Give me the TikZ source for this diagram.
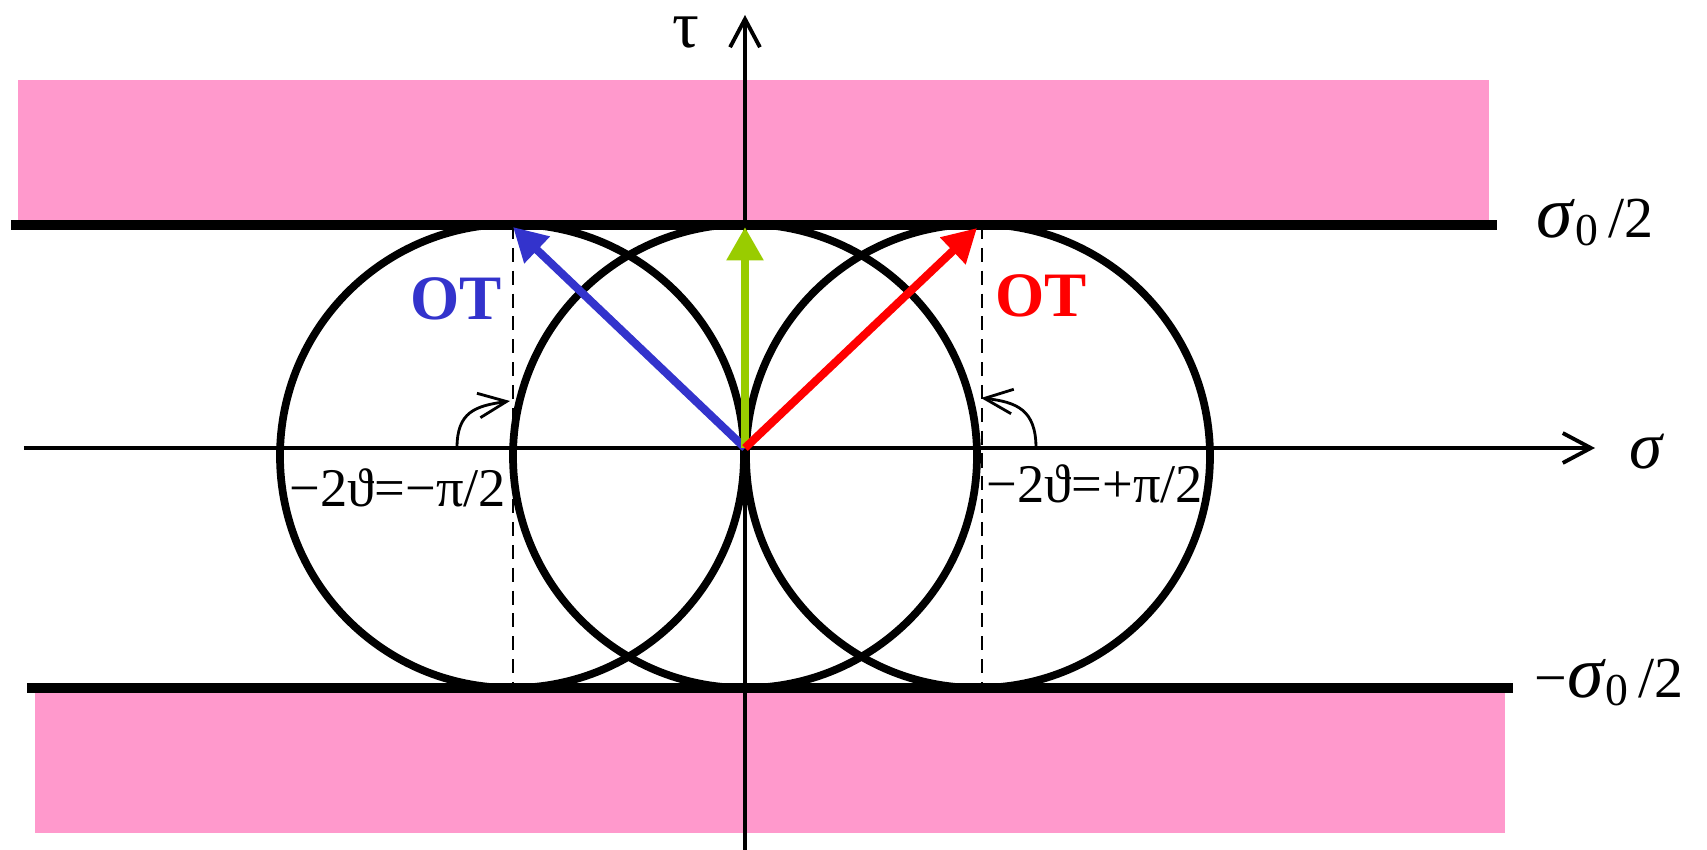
\documentclass[tikz,border=0pt]{standalone}
\usepackage{fontspec}
\setmainfont{Liberation Serif}
\usetikzlibrary{arrows.meta}

\definecolor{stripe}{HTML}{FF99CC}
\definecolor{otblue}{HTML}{3333CC}
\definecolor{otred}{HTML}{FF0000}
\definecolor{otgreen}{HTML}{99CC00}

\begin{document}
\begin{tikzpicture}[>={Straight Barb[length=8pt,width=8.5pt]},
		axis/.style={line width=1.1pt,->},
		wall/.style={line width=2.6pt},
		orbit/.style={line width=2.2pt},
		vec/.style={line width=2.3pt,-{Triangle[length=9.5pt,width=10pt]}},
		turn/.style={line width=0.8pt,-{Straight Barb[length=8pt,width=7pt]}},
		guide/.style={line width=0.7pt,dash pattern=on 4pt off 2.5pt},
		lbl/.style={inner sep=0pt,font=\fontsize{19}{22}\selectfont},
		angle label/.style={inner sep=0pt,font=\fontsize{15.5}{18}\selectfont},
		wall label/.style={inner sep=0pt,font=\fontsize{16.5}{19}\selectfont},
		ot/.style={inner sep=0pt,font=\fontsize{18}{20}\selectfont\bfseries}]
			\useasboundingbox (-7.45,-4.01) rectangle (9.62,4.48);
			
			% forbidden strips
			\fill[stripe] (-7.27,2.26) rectangle (7.44,3.68);
			\fill[stripe] (-7.10,-2.45) rectangle (7.60,-3.85);
			
			\coordinate (O) at (0,0);
			\coordinate (sl) at (-7.21,0);
			\coordinate (sr) at (8.50,0);
			\coordinate (tb) at (0,-4.05);
			\coordinate (tt) at (0,4.33);
			\draw[axis] (sl) -- (sr);
			\draw[axis] (tb) -- (tt);
			\node[lbl] (sigma) at (9.02,-0.04) {\textit{σ}};
			\node[lbl] (tau) at (-0.59,4.15) {τ};
			
			% boundaries
			\coordinate (ul) at (-7.34,2.23);
			\coordinate (ur) at (7.52,2.23);
			\coordinate (ll) at (-7.18,-2.40);
			\coordinate (lr) at (7.68,-2.40);
			\draw[wall] (ul) -- (ur);
			\draw[wall] (ll) -- (lr);
			\node[wall label] (up) at (8.50,2.25) {{\fontsize{21}{23}\selectfont\textit{σ}}\raisebox{-0.3ex}{\fontsize{13}{15}\selectfont 0}\,/2};
			\node[wall label] (down) at (8.64,-2.35) {−{\fontsize{21}{23}\selectfont\textit{σ}}\raisebox{-0.3ex}{\fontsize{13}{15}\selectfont 0}\,/2};
			
			% circles
			\foreach \cx in {-2.33,0,2.33}
				\draw[orbit] (\cx,-0.08) circle (2.32);
			
			% dashed verticals
			\coordinate (dlt) at (-2.32,2.23);
			\coordinate (dlb) at (-2.32,-2.40);
			\coordinate (drt) at (2.37,2.23);
			\coordinate (drb) at (2.37,-2.40);
			\draw[guide] (dlt) -- (dlb);
			\draw[guide] (drt) -- (drb);
			
			% vectors
			\coordinate (vb) at (-2.32,2.21);
			\coordinate (vg) at (0,2.21);
			\coordinate (vr) at (2.32,2.20);
			\draw[vec,otblue] (O) -- (vb);
			\draw[vec,otgreen] (O) -- (vg);
			\draw[vec,otred] (O) -- (vr);
			\node[ot,otblue] (otl) at (-2.89,1.49) {OT};
			\node[ot,otred] (otr) at (2.96,1.52) {OT};
			
			% angle marks
			\coordinate (al) at (-2.88,0);
			\coordinate (ar) at (2.91,0);
			\coordinate (bl) at (-2.35,0.47);
			\coordinate (br) at (2.36,0.50);
			\draw[turn] (al) .. controls (-2.88,0.36) and (-2.70,0.42) .. (bl);
			\draw[turn] (ar) .. controls (2.91,0.38) and (2.72,0.46) .. (br);
			\node[angle label] (thl) at (-3.47,-0.40) {−2ϑ=−π/2};
			\node[angle label] (thr) at (3.50,-0.36) {−2ϑ=+π/2};
		\end{tikzpicture}
\end{document}
